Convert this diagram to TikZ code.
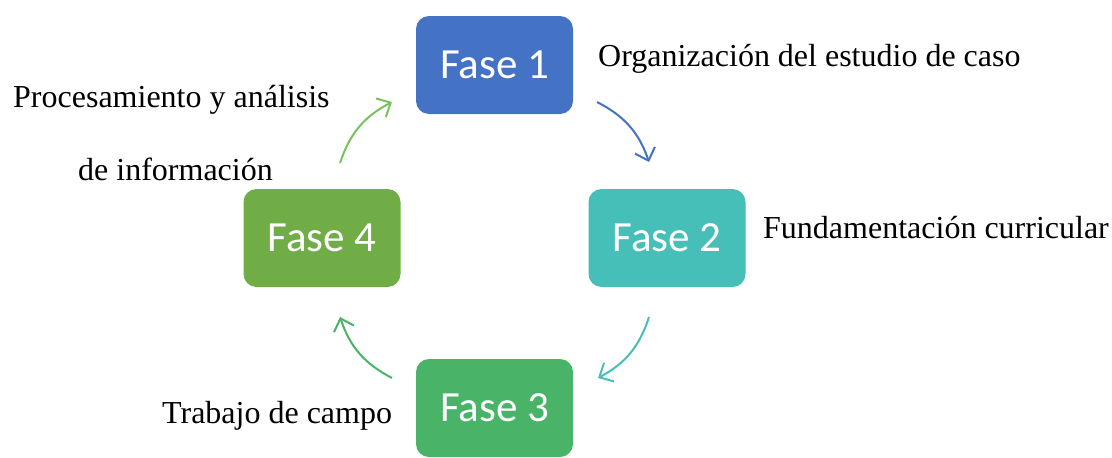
\documentclass[tikz,border=0pt]{standalone}
\usepackage{fontspec}
\setmainfont{Liberation Serif}
\newfontfamily\fasefont{Carlito}
\usetikzlibrary{arrows.meta}

\definecolor{fazul}{HTML}{4472C4}
\definecolor{fturq}{HTML}{47BFB9}
\definecolor{fverde}{HTML}{49B467}
\definecolor{foliva}{HTML}{70AD47}
\definecolor{flima}{HTML}{78C25E}

\tikzset{
  fase/.style={rounded corners=13pt, minimum width=157pt, minimum height=98pt,
    inner sep=0pt, text=white, font=\fasefont\fontsize{43}{50}\selectfont},
  desc/.style={anchor=base west, inner sep=0pt, font=\fontsize{32}{38}\selectfont},
  flecha/.style={->, line width=2pt, bend left=22}
}

\begin{document}
\begin{tikzpicture}[x=1pt,y=-1pt,>={Straight Barb[length=11pt,width=21pt]}]

\useasboundingbox (0,0) rectangle (1112,458);

% fases
\node[fase,fill=fazul] (f1) at (494.5,65) {Fase 1};
\node[fase,fill=fturq] (f2) at (667,238) {Fase 2};
\node[fase,fill=fverde] (f3) at (494.5,408) {Fase 3};
\node[fase,fill=foliva] (f4) at (322,238) {Fase 4};

% textos
\node[desc] (t1) at (598,66) {Organización del estudio de caso};
\node[desc] (t2) at (763,238) {Fundamentación curricular};
\node[desc] (t4a) at (13,107) {Procesamiento y análisis};
\node[desc] (t4b) at (78,180) {de información};
\node[desc] (t3) at (162,423) {Trabajo de campo};

% flechas
\coordinate (a1) at (597,102);
\coordinate (b1) at (649,162);
\coordinate (a2) at (649,317);
\coordinate (b2) at (598,378);
\coordinate (a3) at (392,378);
\coordinate (b3) at (340,317);
\coordinate (a4) at (340,163);
\coordinate (b4) at (392,102);

\draw[flecha,color=fazul] (a1) to (b1);
\draw[flecha,color=fturq] (a2) to (b2);
\draw[flecha,color=fverde] (a3) to (b3);
\draw[flecha,color=flima] (a4) to (b4);

\end{tikzpicture}
\end{document}
